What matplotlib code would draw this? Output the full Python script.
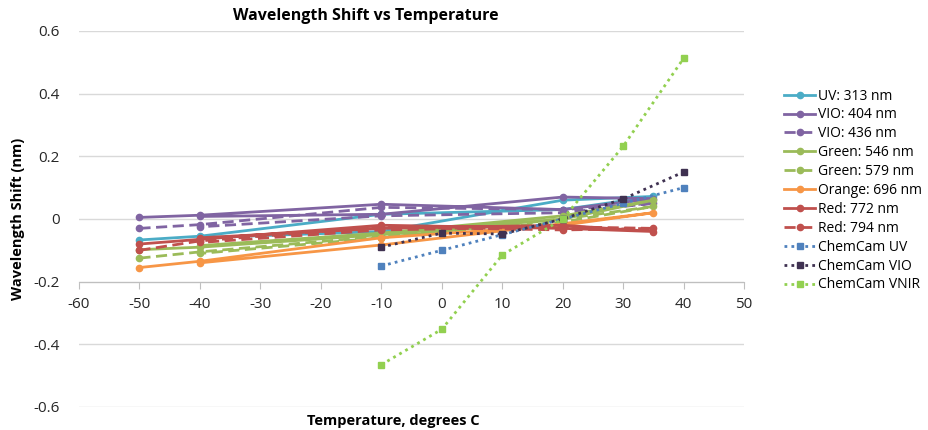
import matplotlib
matplotlib.use('Agg')
import matplotlib.pyplot as plt

plt.rcParams['font.family'] = ['Open Sans', 'DejaVu Sans']
plt.rcParams['axes.unicode_minus'] = False

# lab runs: ramp up from -50 to 35 and back down to -40
lab_temps = [-50, -40, -10, 20, 35, 20, -10, -40]
uv_313 = [-0.067, -0.055, 0.015, 0.03, 0.072, 0.06, -0.04, -0.06]
vio_404 = [0.005, 0.012, 0.047, 0.03, 0.065, 0.07, 0.015, 0.008]
vio_436 = [-0.03, -0.018, 0.037, 0.03, 0.05, 0.02, 0.01, -0.025]
green_546 = [-0.098, -0.09, -0.05, 0.0, 0.06, 0.01, -0.045, -0.085]
green_579 = [-0.125, -0.105, -0.055, -0.01, 0.04, 0.0, -0.06, -0.11]
orange_696 = [-0.155, -0.135, -0.06, -0.02, 0.02, -0.015, -0.083, -0.14]
red_772 = [-0.08, -0.065, -0.02, -0.03, -0.04, -0.02, -0.03, -0.06]
red_794 = [-0.10, -0.07, -0.025, -0.035, -0.03, -0.025, -0.035, -0.075]

chemcam_temps = [-10, 0, 10, 20, 30, 40]
chemcam_uv = [-0.15, -0.10, -0.05, 0.0, 0.05, 0.10]
chemcam_vio = [-0.09, -0.045, -0.048, 0.0, 0.064, 0.15]
chemcam_vnir = [-0.465, -0.352, -0.115, 0.0, 0.232, 0.513]

lab_series = [
    ('UV: 313 nm', uv_313, '#4BACC6', '-'),
    ('VIO: 404 nm', vio_404, '#8064A2', '-'),
    ('VIO: 436 nm', vio_436, '#8064A2', (0, (4, 2))),
    ('Green: 546 nm', green_546, '#9BBB59', '-'),
    ('Green: 579 nm', green_579, '#9BBB59', (0, (4, 2))),
    ('Orange: 696 nm', orange_696, '#F79646', '-'),
    ('Red: 772 nm', red_772, '#C0504D', '-'),
    ('Red: 794 nm', red_794, '#C0504D', (0, (4, 2))),
]
chemcam_series = [
    ('ChemCam UV', chemcam_uv, '#4F81BD'),
    ('ChemCam VIO', chemcam_vio, '#3F3151'),
    ('ChemCam VNIR', chemcam_vnir, '#92D050'),
]

fig = plt.figure(figsize=(9.29, 4.30), dpi=100)
ax = fig.add_axes([0.085, 0.0535, 0.716, 0.8745])

for label, vals, color, ls in lab_series:
    ax.plot(lab_temps, vals, color=color, linestyle=ls, linewidth=2,
            marker='o', markersize=4.5, label=label)

for label, vals, color in chemcam_series:
    ax.plot(chemcam_temps, vals, color=color, linestyle=(0, (1, 1.5)), linewidth=2,
            marker='s', markersize=4.5, label=label)

ax.set_xlim(-60, 50)
ax.set_ylim(-0.6, 0.6)
ax.set_xticks(range(-60, 51, 10))
ax.set_yticks([-0.6, -0.4, -0.2, 0, 0.2, 0.4, 0.6])
ax.set_yticklabels(['-0.6', '-0.4', '-0.2', '0', '0.2', '0.4', '0.6'])

# x axis crosses at -0.2, Excel style
ax.spines['bottom'].set_position(('data', -0.2))
ax.spines['bottom'].set_color('#BFBFBF')
for s in ['top', 'right', 'left']:
    ax.spines[s].set_visible(False)
ax.grid(axis='y', color='#D9D9D9', linewidth=1)
ax.set_axisbelow(True)
ax.tick_params(axis='x', direction='out', length=5, color='#BFBFBF', labelsize=11, pad=6)
ax.tick_params(axis='y', length=0, labelsize=11, pad=14)
for t in ax.get_xticklabels() + ax.get_yticklabels():
    t.set_color('#262626')

fig.text(366 / 929, 1 - 16 / 430, 'Wavelength Shift vs Temperature', ha='center', va='center',
         fontsize=11.5, fontweight='bold')
fig.text(393 / 929, 1 - 421 / 430, 'Temperature, degrees C', ha='center', va='center',
         fontsize=10.5, fontweight='bold')
fig.text(18 / 929, 1 - 219 / 430, 'Wavelength Shift (nm)', ha='center', va='center',
         rotation=90, fontsize=10.5, fontweight='bold')

fig.legend(loc='upper left', bbox_to_anchor=(772 / 929, 1 - 76 / 430), frameon=False,
           fontsize=10, handlelength=2.2, handletextpad=0.2, labelspacing=0.28)

fig.savefig('out.png', dpi=100)
